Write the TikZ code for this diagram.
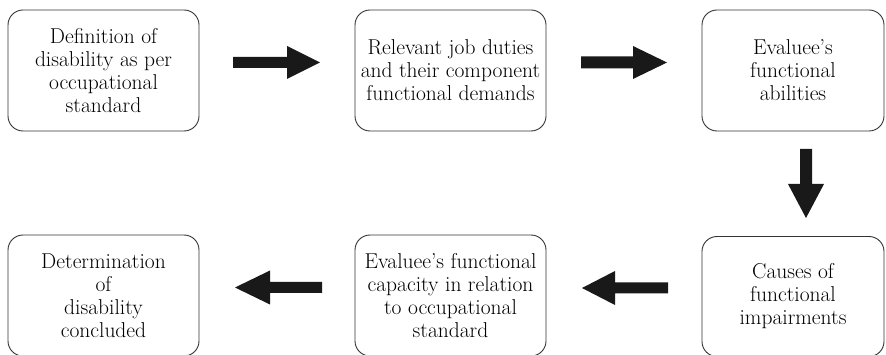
\documentclass[tikz,border=0pt]{standalone}
\begin{document}
\begin{tikzpicture}[x=1pt,y=-1pt,
  box/.style={draw=black!80, line width=0.9pt, rounded corners=15pt, align=center, inner sep=0pt,
    font=\rmfamily\fontsize{21.5}{23}\selectfont, text=black},
  arr/.style={fill=black!90, draw=none}]
\useasboundingbox (0,0) rectangle (886,355);
\node[box, minimum width=191pt, minimum height=121pt] (b1) at (103.5,70.5) {Definition of\\disability as per\\occupational\\standard};
\node[box, minimum width=191pt, minimum height=121pt] (b2) at (450.5,70.5) {Relevant job duties\\and their component\\functional demands};
\node[box, minimum width=182pt, minimum height=121pt] (b3) at (793,70.5) {Evaluee’s\\functional\\abilities};
\node[box, minimum width=182pt, minimum height=120pt] (b6) at (793,296.5) {Causes of\\functional\\impairments};
\node[box, minimum width=191pt, minimum height=121pt] (b5) at (450.5,295.5) {Evaluee’s functional\\capacity in relation\\to occupational\\standard};
\node[box, minimum width=191pt, minimum height=121pt] (b4) at (103.5,295.5) {Determination\\of\\disability\\concluded};
% block arrows
\coordinate (a1) at (233,62.5);
\coordinate (a2) at (581,62.5);
\coordinate (a3) at (806,149);
\coordinate (a4) at (668,288);
\coordinate (a5) at (322,287.5);
\fill[arr] (a1) ++(0,-5.5) -- ++(54,0) -- ++(0,-11) -- ++(33,16.5) -- ++(-33,16.5) -- ++(0,-11) -- ++(-54,0) -- cycle;
\fill[arr] (a2) ++(0,-6) -- ++(52,0) -- ++(0,-10.5) -- ++(34,16.5) -- ++(-34,16.5) -- ++(0,-10.5) -- ++(-52,0) -- cycle;
\fill[arr] (a3) ++(-6,0) -- ++(0,35) -- ++(-12,0) -- ++(18,34) -- ++(18,-34) -- ++(-12,0) -- ++(0,-35) -- cycle;
\fill[arr] (a4) ++(0,-5.5) -- ++(-53,0) -- ++(0,-11.5) -- ++(-33,17) -- ++(33,17) -- ++(0,-11.5) -- ++(53,0) -- cycle;
\fill[arr] (a5) ++(0,-5.5) -- ++(-52,0) -- ++(0,-11.5) -- ++(-35,17) -- ++(35,17) -- ++(0,-11.5) -- ++(52,0) -- cycle;
\end{tikzpicture}
\end{document}
